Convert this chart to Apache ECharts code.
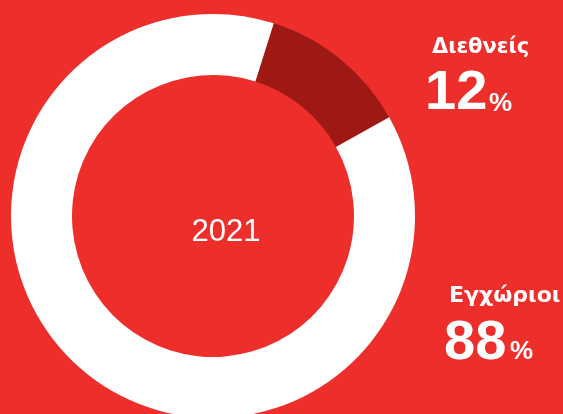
<!DOCTYPE html>
<html>
<head>
<meta charset="utf-8">
<script src="https://cdn.jsdelivr.net/npm/echarts@6/dist/echarts.min.js"></script>
<style>
html,body{margin:0;padding:0;background:#EE2E2B;}
#chart{width:563px;height:414px;}
</style>
</head>
<body>
<div id="chart"></div>
<script>
// Data
var categories = ['Διεθνείς', 'Εγχώριοι'];
var values = [12, 88];
var centerLabel = '2021';
var unit = '%';

var sliceColors = ['#9E1914', '#FFFFFF'];
var FONT = "'Liberation Sans', Arial, Helvetica, sans-serif";
var NAME_FONT = "'DejaVu Sans', 'Liberation Sans', Arial, sans-serif";

var chart = echarts.init(document.getElementById('chart'), null, {renderer: 'canvas'});

var pieData = categories.map(function (c, i) {
  return { name: c, value: values[i], itemStyle: { color: sliceColors[i] } };
});

// label anchor positions and sizes
var labelPos = [
  { nameX: 432, nameY: 48, nameSize: 21, numX: 425, numY: 94, pctX: 489, pctY: 104 },
  { nameX: 449, nameY: 296, nameSize: 22, numX: 444, numY: 344, pctX: 510, pctY: 352 }
];

var graphics = [
  {
    type: 'text', x: 226, y: 232, silent: true,
    style: { text: centerLabel, fill: '#FFFFFF', fontFamily: FONT, fontSize: 31, fontWeight: 'normal', align: 'center', verticalAlign: 'middle' }
  }
];
categories.forEach(function (c, i) {
  var p = labelPos[i];
  graphics.push({
    type: 'text', x: p.nameX, y: p.nameY, silent: true,
    style: { text: c, fill: '#FFFFFF', fontFamily: NAME_FONT, fontSize: p.nameSize, fontWeight: 'bold', align: 'left', verticalAlign: 'middle' }
  });
  graphics.push({
    type: 'text', x: p.numX, y: p.numY, silent: true,
    style: { text: String(values[i]), fill: '#FFFFFF', fontFamily: FONT, fontSize: 56, fontWeight: 'bold', align: 'left', verticalAlign: 'middle' }
  });
  graphics.push({
    type: 'text', x: p.pctX, y: p.pctY, silent: true,
    style: { text: unit, fill: '#FFFFFF', fontFamily: FONT, fontSize: 26, fontWeight: 'bold', align: 'left', verticalAlign: 'middle' }
  });
});

chart.setOption({
  backgroundColor: '#EE2E2B',
  animation: false,
  series: [{
    type: 'pie',
    center: [213, 216],
    radius: [141, 202],
    startAngle: 72.5,
    clockwise: true,
    silent: true,
    label: { show: false },
    labelLine: { show: false },
    emphasis: { disabled: true },
    itemStyle: { borderWidth: 0 },
    data: pieData
  }],
  graphic: graphics
});
</script>
</body>
</html>
